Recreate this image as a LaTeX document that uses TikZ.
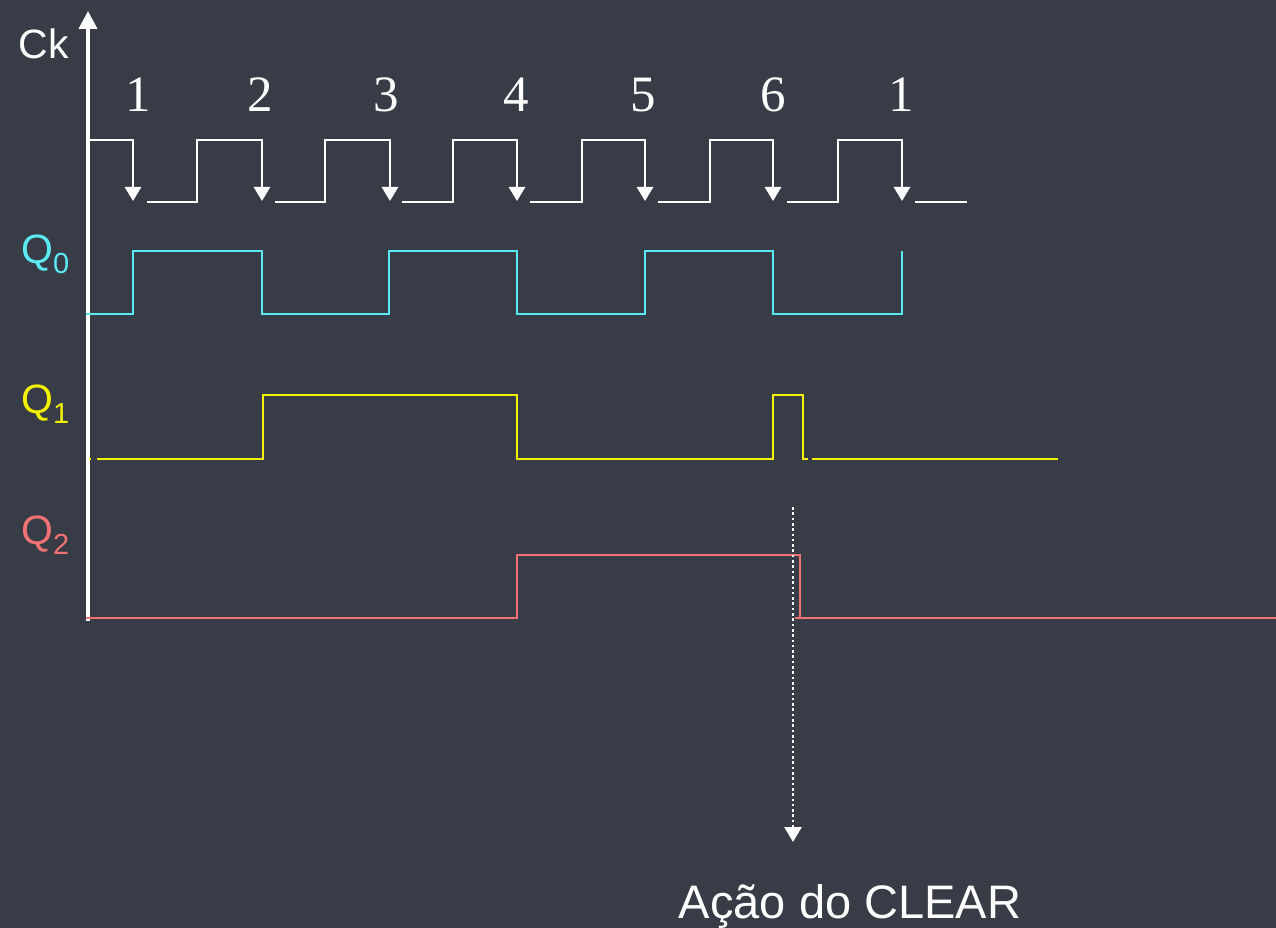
\documentclass[tikz,border=0pt]{standalone}
\usepackage{fontspec}
\setmainfont{Liberation Sans}
\newfontfamily\numfont{Liberation Serif}
\usetikzlibrary{arrows.meta}
\definecolor{bg}{RGB}{55,60,71}
\definecolor{qcyan}{RGB}{92,234,242}
\definecolor{qyellow}{RGB}{245,242,0}
\definecolor{qsalmon}{RGB}{240,114,114}
\tikzset{
  wave/.style={line width=2.8pt, line join=miter},
  clkline/.style={wave, white},
  clkedge/.style={clkline, -{Triangle[width=16pt,length=14pt]}},
  q0line/.style={wave, qcyan},
  q1line/.style={wave, qyellow},
  q2line/.style={wave, qsalmon},
  edgenum/.style={font=\numfont\fontsize{51}{51}\selectfont, white, anchor=base},
  siglabel/.style={anchor=base west, inner sep=0pt},
}
\newcommand{\siglab}[1]{\fontsize{41}{41}\selectfont Q\raisebox{-10pt}{\fontsize{29}{29}\selectfont #1}}
\begin{document}
\begin{tikzpicture}[x=1pt,y=-1pt]
  \fill[bg] (0,0) rectangle (1276,928);
  \useasboundingbox (0,0) rectangle (1276,928);

  % time axis
  \draw[white, line width=4pt, -{Triangle[width=18pt,length=18pt]}] (88,621) -- (88,11);
  \node[white, anchor=base, font=\fontsize{41}{41}\selectfont] (ck) at (44,59) {Ck};

  % clock edge numbers
  \foreach \x/\n [count=\i] in {138/1, 260/2, 386/3, 516/4, 643/5, 773/6, 901/1}
    \node[edgenum] (num\i) at (\x,112) {\n};

  % clock waveform with falling-edge arrows
  \draw[clkedge] (88,140) -- (133,140) -- (133,201);
  \foreach \lo/\r/\f in {147/197/262, 275/325/390, 402/453/517, 530/582/645, 658/710/773, 787/838/902}
    \draw[clkedge] (\lo,202) -- (\r,202) -- (\r,140) -- (\f,140) -- (\f,201);
  \draw[clkline] (915,202) -- (967,202);

  % Q0
  \node[siglabel, qcyan] (lq0) at (21,263) {\siglab{0}};
  \draw[q0line] (86,314) -| (133,251) -| (262,314) -| (389,251) -| (517,314)
                -| (645,251) -| (773,314) -| (902,251);

  % Q1
  \node[siglabel, qyellow] (lq1) at (21,413) {\siglab{1}};
  \draw[q1line] (88.5,459) -- (91,459);
  \draw[q1line] (97,459) -| (263,395) -| (517,459) -| (773,395) -| (803,459) -- (808,459);
  \draw[q1line] (812,459) -- (1058,459);

  % Q2
  \node[siglabel, qsalmon] (lq2) at (21,544) {\siglab{2}};
  \draw[q2line] (86,618) -| (517,555) -| (800,618);
  \draw[q2line] (795,618) -- (1277,618);

  % clear action marker
  \coordinate (clrtop) at (793,507);
  \coordinate (clrtip) at (793,842);
  \draw[white, line width=2.6pt, dash pattern=on 2.6pt off 2.7pt,
        -{Triangle[width=17pt,length=15pt]}] (clrtop) -- (clrtip);
  \node[white, anchor=base, font=\fontsize{47}{47}\selectfont] (clr) at (850,918) {Ação do CLEAR};
\end{tikzpicture}
\end{document}
